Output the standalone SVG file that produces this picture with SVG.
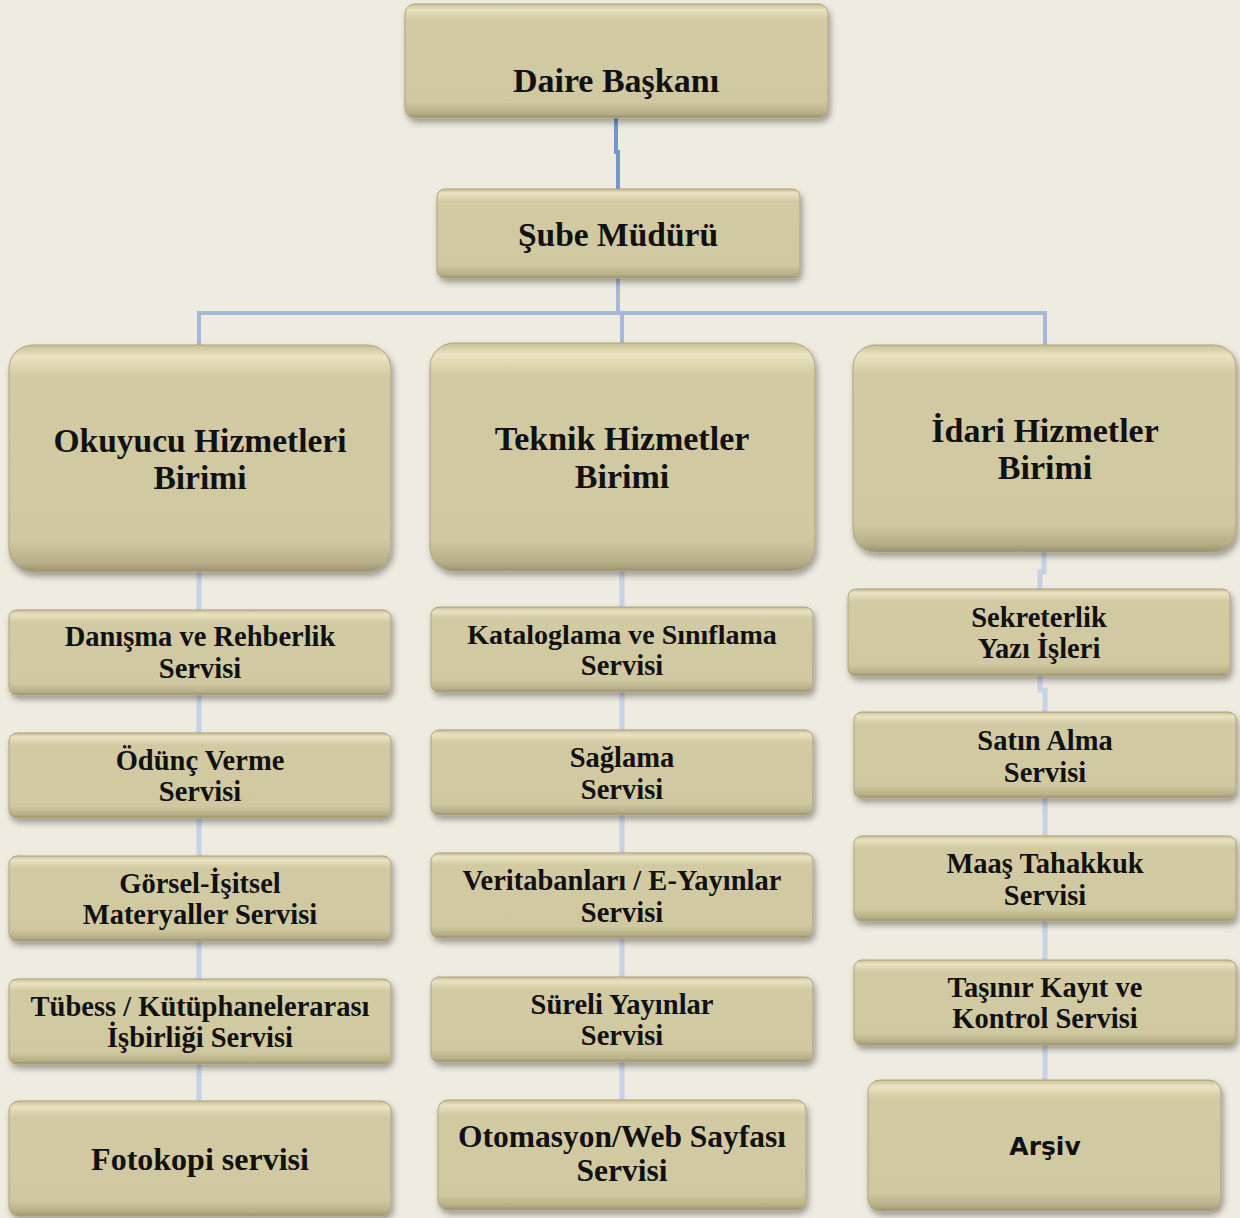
<svg xmlns="http://www.w3.org/2000/svg" width="1240" height="1218" viewBox="0 0 1240 1218">
<defs>
<linearGradient id="bev" x1="0" y1="0" x2="0" y2="1">
<stop offset="0" stop-color="#C7BF95"/>
<stop offset="0.05" stop-color="#EAE3C2"/>
<stop offset="0.14" stop-color="#D2CAA3"/>
<stop offset="0.86" stop-color="#D0C8A0"/>
<stop offset="0.96" stop-color="#B7AF87"/>
<stop offset="1" stop-color="#9A9270"/>
</linearGradient>
<filter id="sh" x="-10%" y="-10%" width="125%" height="130%">
<feDropShadow dx="2" dy="4" stdDeviation="3" flood-color="#000" flood-opacity="0.35"/>
</filter>
</defs>
<style>
.b{fill:url(#bev);stroke:#ACA47C;stroke-width:1;filter:url(#sh)}
.t{font-family:"Liberation Serif","DejaVu Serif",serif;font-weight:bold;fill:#111;text-anchor:middle}
.L{font-size:33.5px}
.S{font-size:28.5px}
.c1{fill:none;stroke:#7697CC;stroke-width:4}
.c2{fill:none;stroke:#A5B8D8;stroke-width:4}
.c3{fill:none;stroke:#C6D2E5;stroke-width:5}
</style>
<rect width="1240" height="1218" fill="#EEEBE1"/>
<g id="connectors">
<path class="c1" d="M616 118 V152 H618 V189"/>
<path class="c2" d="M618 278 V313 M199 345 V313 H1045 V345 M622 313 V343"/>
<path class="c3" d="M199 572 V610 M199 695 V733 M199 818 V856 M199 941 V979 M199 1064 V1101"/>
<path class="c3" d="M622 571 V607 M622 692 V730 M622 815 V853 M622 938 V977 M622 1062 V1100"/>
<path class="c3" d="M1044 552 V572 H1040 V589 M1040 676 V690 H1045 V712 M1045 798 V836 M1045 921 V960 M1045 1045 V1080"/>
</g>
<g id="daire"><rect class="b" x="405" y="4" width="423" height="114" rx="10"/><text class="t L" x="616" y="92" style="font-size:34px">Daire Başkanı</text></g>
<g id="sube"><rect class="b" x="437" y="189" width="363" height="89" rx="8"/><text class="t L" x="618" y="246">Şube Müdürü</text></g>
<g id="okuyucu"><rect class="b" x="9" y="345" width="382" height="227" rx="24"/><text class="t L" x="200" y="452">Okuyucu Hizmetleri</text><text class="t L" x="200" y="489">Birimi</text></g>
<g id="teknik"><rect class="b" x="430" y="343" width="385" height="228" rx="24"/><text class="t L" x="622" y="450" style="font-size:34px">Teknik Hizmetler</text><text class="t L" x="622" y="488" style="font-size:34px">Birimi</text></g>
<g id="idari"><rect class="b" x="853" y="345" width="383" height="207" rx="22"/><text class="t L" x="1045" y="442" style="font-size:34px">İdari Hizmetler</text><text class="t L" x="1045" y="479" style="font-size:34px">Birimi</text></g>
<g id="danisma"><rect class="b" x="9" y="610" width="382" height="85" rx="8"/><text class="t S" x="200" y="646">Danışma ve Rehberlik</text><text class="t S" x="200" y="678">Servisi</text></g>
<g id="odunc"><rect class="b" x="9" y="733" width="382" height="85" rx="8"/><text class="t S" x="200" y="770">Ödünç Verme</text><text class="t S" x="200" y="801">Servisi</text></g>
<g id="gorsel"><rect class="b" x="9" y="856" width="382" height="85" rx="8"/><text class="t S" x="200" y="893">Görsel-İşitsel</text><text class="t S" x="200" y="924">Materyaller Servisi</text></g>
<g id="tubess"><rect class="b" x="9" y="979" width="382" height="85" rx="8"/><text class="t S" x="200" y="1016">Tübess / Kütüphanelerarası</text><text class="t S" x="200" y="1047">İşbirliği Servisi</text></g>
<g id="fotokopi"><rect class="b" x="9" y="1101" width="382" height="115" rx="10"/><text class="t L" x="200" y="1170" style="font-size:32px">Fotokopi servisi</text></g>
<g id="katalog"><rect class="b" x="431" y="607" width="382" height="85" rx="8"/><text class="t S" x="622" y="644" style="font-size:28px">Kataloglama ve Sınıflama</text><text class="t S" x="622" y="675">Servisi</text></g>
<g id="saglama"><rect class="b" x="431" y="730" width="382" height="85" rx="8"/><text class="t S" x="622" y="767">Sağlama</text><text class="t S" x="622" y="799">Servisi</text></g>
<g id="veritabani"><rect class="b" x="431" y="853" width="382" height="85" rx="8"/><text class="t S" x="622" y="890">Veritabanları / E-Yayınlar</text><text class="t S" x="622" y="922">Servisi</text></g>
<g id="sureli"><rect class="b" x="431" y="977" width="382" height="85" rx="8"/><text class="t S" x="622" y="1014">Süreli Yayınlar</text><text class="t S" x="622" y="1045">Servisi</text></g>
<g id="otomasyon"><rect class="b" x="438" y="1100" width="368" height="110" rx="10"/><text class="t L" x="622" y="1147" style="font-size:31.5px">Otomasyon/Web Sayfası</text><text class="t L" x="622" y="1181" style="font-size:31.5px">Servisi</text></g>
<g id="sekreterlik"><rect class="b" x="848" y="589" width="382" height="87" rx="8"/><text class="t S" x="1039" y="627">Sekreterlik</text><text class="t S" x="1039" y="658">Yazı İşleri</text></g>
<g id="satinalma"><rect class="b" x="854" y="712" width="382" height="86" rx="8"/><text class="t S" x="1045" y="750">Satın Alma</text><text class="t S" x="1045" y="782">Servisi</text></g>
<g id="maas"><rect class="b" x="854" y="836" width="382" height="85" rx="8"/><text class="t S" x="1045" y="873">Maaş Tahakkuk</text><text class="t S" x="1045" y="905">Servisi</text></g>
<g id="tasinir"><rect class="b" x="854" y="960" width="382" height="85" rx="8"/><text class="t S" x="1045" y="997">Taşınır Kayıt ve</text><text class="t S" x="1045" y="1028">Kontrol Servisi</text></g>
<g id="arsiv"><rect class="b" x="868" y="1080" width="353" height="131" rx="12"/><text x="1045" y="1155" style="font-family:'DejaVu Sans',sans-serif;font-weight:bold;font-size:25px;fill:#111;text-anchor:middle">Arşiv</text></g>
</svg>
